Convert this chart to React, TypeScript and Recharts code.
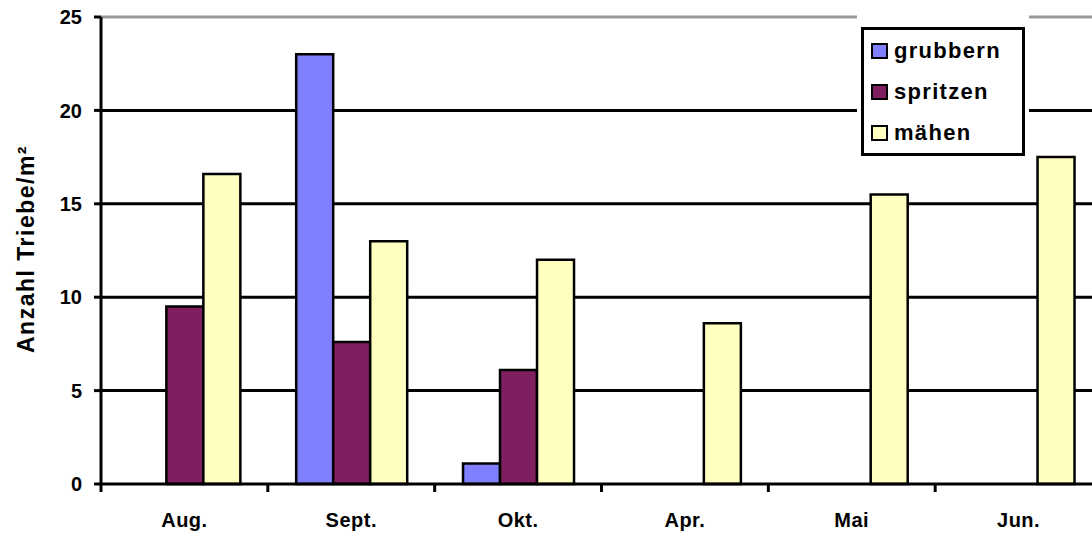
import React from "react"
import {
  BarChart,
  Bar,
  XAxis,
  YAxis,
  CartesianGrid,
  ReferenceLine,
  Legend,
} from "recharts"

// months on the x axis
const months = ["Aug.", "Sept.", "Okt.", "Apr.", "Mai", "Jun."]

// shoots per m² for each treatment
const grubbern = [0, 23, 1.1, 0, 0, 0]
const spritzen = [9.5, 7.6, 6.1, 0, 0, 0]
const maehen = [16.6, 13, 12, 8.6, 15.5, 17.5]

const yTicks = [0, 5, 10, 15, 20, 25]
const gridValues = [5, 10, 15, 20]

const series = [
  { key: "grubbern", name: "grubbern", color: "#8080ff" },
  { key: "spritzen", name: "spritzen", color: "#801f5f" },
  { key: "maehen", name: "mähen", color: "#ffffc0" },
]

const data = months.map((m, i) => ({
  month: m,
  grubbern: grubbern[i],
  spritzen: spritzen[i],
  maehen: maehen[i],
}))

const font = "'Liberation Sans', Arial, sans-serif"

// category label plus a small tick at the left edge of each category
function MonthTick(props: any) {
  const { x, y, payload } = props
  const half = payload && payload.offset ? payload.offset : 83
  return (
    <g>
      <line x1={x - half} x2={x - half} y1={y} y2={y + 8} stroke="#000" strokeWidth={3} />
      <text
        x={x}
        y={y + 43}
        textAnchor="middle"
        fontFamily={font}
        fontWeight="bold"
        fontSize={20}
        letterSpacing={0.5}
        fill="#000"
      >
        {payload.value}
      </text>
    </g>
  )
}

function LegendBox() {
  return (
    <div style={{ background: "#fff", padding: "13px 4px 0 4px" }}>
      <div
        style={{
          border: "3px solid #000",
          background: "#fff",
          padding: "0 4px 0 7px",
          fontFamily: font,
          fontWeight: "bold",
          fontSize: 22,
        }}
      >
        {series.map((s) => (
          <div key={s.key} style={{ display: "flex", alignItems: "center", height: 41 }}>
            <span
              style={{
                display: "inline-block",
                width: 13,
                height: 12,
                background: s.color,
                border: "2px solid #000",
                marginRight: 6,
              }}
            />
            <span style={{ letterSpacing: 1.3 }}>{s.name}</span>
          </div>
        ))}
      </div>
    </div>
  )
}

export default function App() {
  return (
    <div
      style={{
        position: "absolute",
        left: 0,
        top: 0,
        width: 1092,
        height: 536,
        overflow: "hidden",
        background: "#fff",
      }}
    >
      <BarChart
        width={1120}
        height={536}
        data={data}
        margin={{ top: 17, right: 18, bottom: 12, left: 41 }}
        barCategoryGap="17%"
        barGap={0}
      >
        <CartesianGrid
          vertical={false}
          horizontalValues={gridValues}
          stroke="#000"
          strokeWidth={3}
        />
        <ReferenceLine y={25} stroke="#999" strokeWidth={3} />
        <XAxis
          dataKey="month"
          height={40}
          tickLine={false}
          tickSize={0}
          tickMargin={0}
          axisLine={{ stroke: "#000", strokeWidth: 3 }}
          tick={<MonthTick />}
          interval={0}
        />
        <YAxis
          width={60}
          domain={[0, 25]}
          ticks={yTicks}
          interval={0}
          tickSize={7}
          tickMargin={12}
          axisLine={{ stroke: "#000", strokeWidth: 3 }}
          tickLine={{ stroke: "#000", strokeWidth: 3 }}
          tick={{ fill: "#000", fontFamily: font, fontWeight: "bold", fontSize: 20 }}
        />
        {/* centre/middle keeps the legend from shrinking the plot area */}
        <Legend
          layout="vertical"
          verticalAlign="middle"
          align="center"
          content={<LegendBox />}
          wrapperStyle={{ top: 14, left: 857, width: 172 }}
        />
        {series.map((s) => (
          <Bar
            key={s.key}
            dataKey={s.key}
            name={s.name}
            fill={s.color}
            stroke="#000"
            strokeWidth={2.5}
            isAnimationActive={false}
          />
        ))}
      </BarChart>
      <div
        style={{
          position: "absolute",
          left: 26,
          top: 249,
          transform: "translate(-50%, -50%) rotate(-90deg)",
          whiteSpace: "nowrap",
          fontFamily: font,
          fontWeight: "bold",
          fontSize: 23,
          letterSpacing: 1.5,
          color: "#000",
        }}
      >
        Anzahl Triebe/m²
      </div>
    </div>
  )
}
